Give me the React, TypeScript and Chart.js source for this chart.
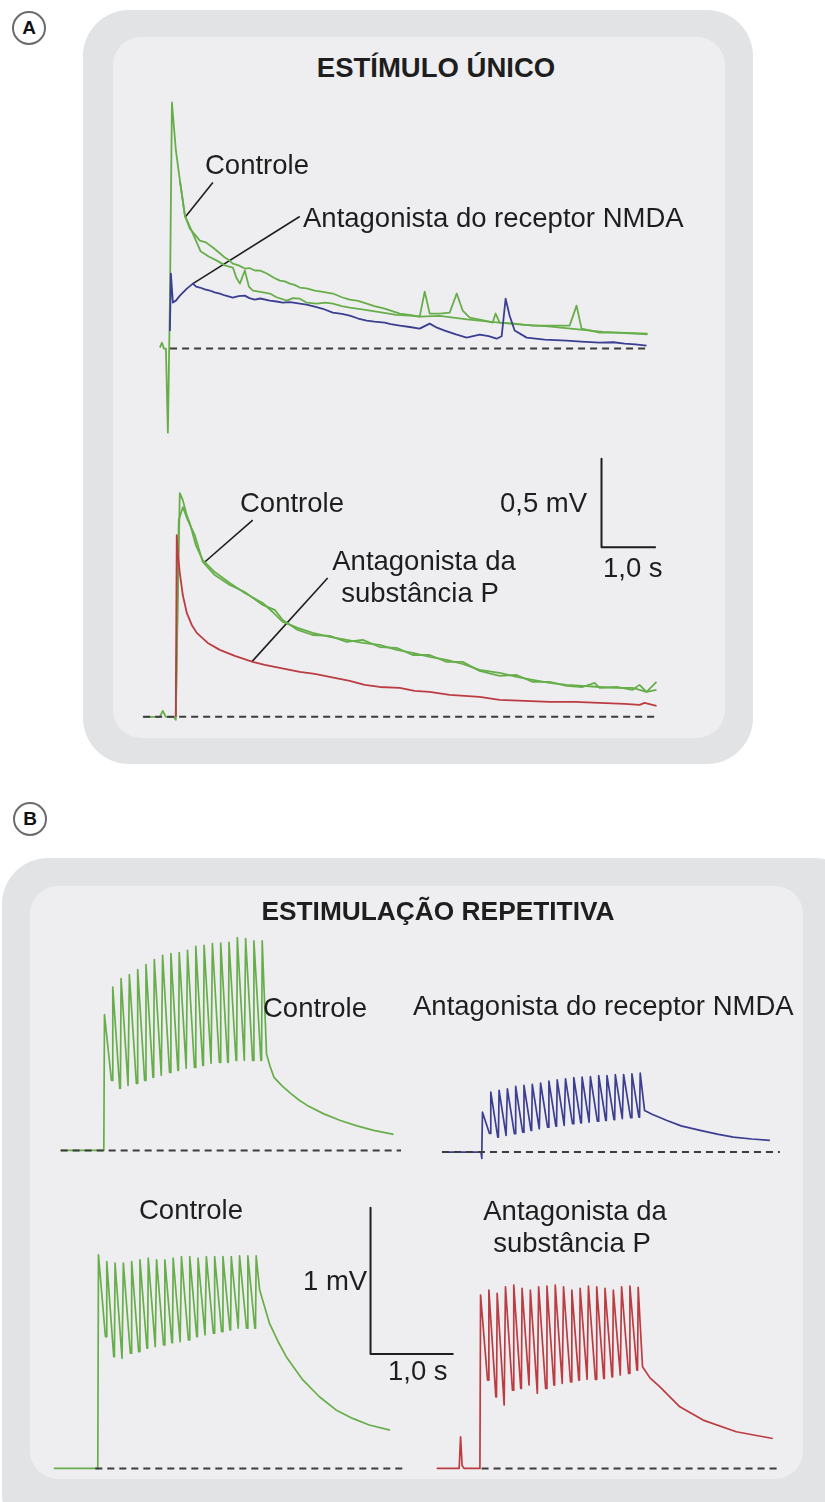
import React, { useEffect, useRef } from "react";
import { Chart, registerables } from "chart.js";

Chart.register(...registerables);

type P = [number, number]; // [time (s), potential (mV)]

// ---------------- Panel A : single stimulus ----------------
// Top pair: control vs NMDA-receptor antagonist
const aTopControl1: P[] = [
  [-0.147, 0.006], [-0.11, 0.034], [-0.074, 0], [-0.037, 0], [0, -0.475], [0.037, 0.271], [0.074, 1.39],
  [0.147, 1.119], [0.221, 0.949], [0.313, 0.751], [0.404, 0.678], [0.588, 0.61], [0.7, 0.6], [0.827, 0.571],
  [0.95, 0.54], [1.048, 0.514], [1.12, 0.5], [1.195, 0.48], [1.3, 0.47], [1.415, 0.452], [1.5, 0.455],
  [1.599, 0.441], [1.7, 0.44], [1.82, 0.424], [1.95, 0.4], [2.059, 0.384], [2.15, 0.38], [2.243, 0.367],
  [2.33, 0.36], [2.426, 0.345], [2.55, 0.34], [2.702, 0.328], [2.85, 0.32], [3.033, 0.311], [3.2, 0.29],
  [3.346, 0.277], [3.5, 0.27], [3.658, 0.254], [3.8, 0.24], [3.989, 0.226], [4.1, 0.215], [4.265, 0.198],
  [4.45, 0.19], [4.632, 0.181], [4.724, 0.322], [4.816, 0.198], [5.0, 0.198], [5.184, 0.203], [5.313, 0.311],
  [5.423, 0.215], [5.551, 0.175], [5.827, 0.158], [5.974, 0.147], [6.029, 0.198], [6.103, 0.147],
  [6.379, 0.141], [6.71, 0.13], [7.022, 0.13], [7.39, 0.13], [7.518, 0.243], [7.61, 0.113], [7.941, 0.09],
  [8.309, 0.09], [8.824, 0.085],
];
const aTopControl2: P[] = [
  [0.221, 0.949], [0.313, 0.751], [0.46, 0.65], [0.6, 0.55], [0.75, 0.52], [0.901, 0.497], [1.05, 0.47],
  [1.195, 0.458], [1.26, 0.4], [1.324, 0.367], [1.415, 0.441], [1.49, 0.35], [1.563, 0.328], [1.7, 0.32],
  [1.875, 0.311], [2.0, 0.29], [2.188, 0.271], [2.3, 0.285], [2.426, 0.282], [2.55, 0.26], [2.739, 0.254],
  [2.9, 0.26], [3.033, 0.254], [3.2, 0.24], [3.346, 0.232], [3.6, 0.22], [3.952, 0.203], [4.2, 0.19],
  [4.449, 0.186], [4.632, 0.181], [5.0, 0.185], [5.5, 0.165], [6.0, 0.15], [6.5, 0.135], [7.0, 0.125],
  [7.5, 0.11], [8.0, 0.095], [8.824, 0.08],
];
const aTopNmda: P[] = [
  [0.037, 0.1], [0.055, 0.424], [0.092, 0.26], [0.147, 0.271], [0.221, 0.299], [0.349, 0.339], [0.46, 0.367],
  [0.52, 0.35], [0.588, 0.345], [0.68, 0.335], [0.772, 0.328], [0.86, 0.318], [0.956, 0.311], [1.05, 0.3],
  [1.195, 0.288], [1.3, 0.296], [1.415, 0.299], [1.5, 0.285], [1.599, 0.277], [1.7, 0.283], [1.875, 0.271],
  [2.0, 0.266], [2.114, 0.26], [2.25, 0.262], [2.426, 0.254], [2.55, 0.248], [2.702, 0.237], [2.85, 0.225],
  [3.033, 0.203], [3.2, 0.196], [3.346, 0.186], [3.5, 0.17], [3.658, 0.158], [3.8, 0.152], [3.989, 0.147],
  [4.1, 0.138], [4.265, 0.13], [4.45, 0.122], [4.632, 0.113], [4.816, 0.141], [4.95, 0.118], [5.092, 0.102],
  [5.3, 0.08], [5.496, 0.062], [5.735, 0.079], [5.9, 0.07], [6.048, 0.056], [6.14, 0.07], [6.213, 0.282],
  [6.287, 0.186], [6.379, 0.102], [6.599, 0.062], [6.93, 0.051], [7.335, 0.045], [7.6, 0.04], [7.941, 0.034],
  [8.2, 0.036], [8.401, 0.028], [8.6, 0.024], [8.805, 0.017],
];
const aTopBaseline: P[] = [[0.04, 0], [8.82, 0]];
const aTopCtrlPointer: P[] = [[0.827, 0.938], [0.313, 0.74]];
const aTopNmdaPointer: P[] = [[2.426, 0.746], [0.46, 0.367]];

// Bottom pair: control vs substance P antagonist
const aBotControl1: P[] = [
  [-0.607, 0], [-0.294, 0], [-0.239, 0.034], [-0.184, 0], [-0.037, 0], [0, -0.017], [0.037, 0.661],
  [0.074, 1.266], [0.129, 1.226], [0.202, 1.141], [0.257, 1.096], [0.368, 0.972], [0.496, 0.887],
  [0.717, 0.819], [0.993, 0.757], [1.268, 0.701], [1.599, 0.644], [1.783, 0.593], [1.967, 0.537],
  [2.243, 0.503], [2.518, 0.475], [2.831, 0.452], [3.143, 0.435], [3.438, 0.418], [3.75, 0.407],
  [4.063, 0.379], [4.357, 0.362], [4.669, 0.339], [4.982, 0.322], [5.276, 0.299], [5.588, 0.266],
  [5.956, 0.249], [6.268, 0.226], [6.563, 0.209], [6.875, 0.192], [7.188, 0.181], [7.482, 0.175],
  [7.794, 0.169], [8.107, 0.164], [8.401, 0.164], [8.658, 0.141], [8.842, 0.198],
];
const aBotControl2: P[] = [
  [0, 0], [0.055, 1.113], [0.129, 1.186], [0.221, 1.113], [0.349, 1.028], [0.496, 0.876], [0.717, 0.802],
  [0.993, 0.746], [1.268, 0.706], [1.599, 0.633], [1.82, 0.605], [1.967, 0.548], [2.243, 0.492],
  [2.518, 0.463], [2.831, 0.458], [3.143, 0.424], [3.438, 0.435], [3.75, 0.395], [4.063, 0.39],
  [4.357, 0.35], [4.669, 0.35], [4.982, 0.311], [5.276, 0.311], [5.588, 0.26], [5.956, 0.232],
  [6.268, 0.237], [6.563, 0.198], [6.875, 0.198], [7.188, 0.175], [7.482, 0.169], [7.702, 0.192],
  [7.794, 0.164], [8.107, 0.169], [8.401, 0.153], [8.529, 0.181], [8.658, 0.141], [8.842, 0.153],
];
const aBotSubP: P[] = [
  [0, 0], [0.018, 1.028], [0.037, 0.927], [0.074, 0.814], [0.129, 0.689], [0.202, 0.588], [0.294, 0.52],
  [0.386, 0.475], [0.588, 0.418], [0.809, 0.379], [1.085, 0.345], [1.415, 0.311], [1.636, 0.294],
  [1.912, 0.277], [2.279, 0.254], [2.555, 0.243], [2.831, 0.226], [3.199, 0.203], [3.474, 0.181],
  [3.75, 0.169], [4.118, 0.164], [4.393, 0.147], [4.669, 0.141], [5.037, 0.124], [5.588, 0.113],
  [5.956, 0.096], [6.415, 0.09], [6.875, 0.085], [7.335, 0.085], [7.794, 0.079], [8.254, 0.073],
  [8.529, 0.068], [8.621, 0.079], [8.842, 0.062],
];
const aBotBaseline: P[] = [[-0.6, 0], [8.86, 0]];
const aBotCtrlPointer: P[] = [[1.415, 1.113], [0.533, 0.876]];
const aBotSubPPointer: P[] = [[2.794, 0.785], [1.397, 0.311]];
const aScaleOrigin: P = [7.83, 0.96];
const aScaleSize: P = [1.0, 0.5]; // 1,0 s  x  0,5 mV

// ---------------- Panel B : repetitive stimulation (10 Hz) ----------------
const stimTimes = [0, 0.1, 0.2, 0.3, 0.4, 0.5, 0.6, 0.7, 0.8, 0.9, 1.0, 1.1, 1.2, 1.3, 1.4, 1.5, 1.6, 1.7, 1.8, 1.9];

const bCtrlTopPre: P[] = [[-0.52, 0], [0, 0]];
const bCtrlTopPeaks = [0.929, 1.118, 1.176, 1.203, 1.238, 1.272, 1.306, 1.336, 1.347, 1.354, 1.37, 1.397, 1.404, 1.416, 1.42, 1.425, 1.457, 1.45, 1.434, 1.434];
const bCtrlTopTroughs = [0.479, 0.425, 0.445, 0.459, 0.479, 0.5, 0.514, 0.534, 0.548, 0.562, 0.568, 0.582, 0.596, 0.603, 0.603, 0.616, 0.616, 0.616, 0.616];
const bCtrlTopTail: P[] = [[1.96, 0.66], [2.0, 0.58], [2.05, 0.5], [2.15, 0.44], [2.25, 0.39], [2.35, 0.345], [2.45, 0.308], [2.65, 0.25], [2.85, 0.205], [3.05, 0.168], [3.25, 0.137], [3.49, 0.11]];
const bCtrlTopBaseline: P[] = [[-0.52, 0], [3.58, 0]];

const bNmdaPre: P[] = [[-0.48, 0], [-0.01, 0], [0, -0.043]];
const bNmdaPeaks = [0.274, 0.411, 0.423, 0.434, 0.45, 0.457, 0.464, 0.473, 0.486, 0.496, 0.503, 0.51, 0.514, 0.518, 0.525, 0.525, 0.532, 0.532, 0.537, 0.541];
const bNmdaTroughs = [0.128, 0.103, 0.114, 0.126, 0.137, 0.149, 0.16, 0.171, 0.178, 0.183, 0.195, 0.201, 0.205, 0.212, 0.217, 0.222, 0.229, 0.236, 0.24];
const bNmdaTail: P[] = [[1.96, 0.286], [2.05, 0.26], [2.23, 0.217], [2.4, 0.18], [2.63, 0.149], [2.85, 0.122], [3.03, 0.103], [3.25, 0.09], [3.47, 0.08]];
const bNmdaBaseline: P[] = [[-0.48, 0], [3.59, 0]];

const bCtrlBotPre: P[] = [[-0.53, 0], [0, 0]];
const bCtrlBotPeaks = [1.461, 1.415, 1.404, 1.404, 1.415, 1.427, 1.438, 1.427, 1.427, 1.438, 1.449, 1.449, 1.438, 1.449, 1.449, 1.449, 1.449, 1.454, 1.454, 1.454];
const bCtrlBotTroughs = [0.901, 0.764, 0.753, 0.788, 0.799, 0.822, 0.833, 0.845, 0.86, 0.867, 0.879, 0.901, 0.913, 0.925, 0.936, 0.947, 0.959, 0.959, 0.959];
const bCtrlBotTail: P[] = [[1.95, 1.22], [2.07, 0.99], [2.17, 0.87], [2.27, 0.764], [2.47, 0.605], [2.67, 0.49], [2.87, 0.4], [3.07, 0.342], [3.27, 0.297], [3.52, 0.262]];
const bCtrlBotBaseline: P[] = [[-0.03, 0], [3.67, 0]];

const bSubPPre: P[] = [[-0.52, 0], [-0.25, 0], [-0.233, 0.216], [-0.215, 0.02], [-0.19, 0], [0, 0]];
const bSubPPeaks = [1.187, 1.221, 1.199, 1.244, 1.255, 1.233, 1.221, 1.244, 1.249, 1.255, 1.244, 1.221, 1.233, 1.249, 1.244, 1.233, 1.221, 1.244, 1.249, 1.24];
const bSubPTroughs = [0.605, 0.49, 0.434, 0.536, 0.548, 0.571, 0.514, 0.548, 0.571, 0.582, 0.593, 0.605, 0.61, 0.61, 0.616, 0.627, 0.639, 0.651, 0.673];
const bSubPTail: P[] = [[1.96, 0.696], [2.05, 0.62], [2.17, 0.559], [2.41, 0.422], [2.69, 0.331], [3.09, 0.251], [3.53, 0.205]];
const bSubPBaseline: P[] = [[0.02, 0], [3.59, 0]];

const bScaleOrigin: P = [3.286, 0.783];
const bScaleSize: P = [1.0, 1.0]; // 1,0 s  x  1 mV

// ---------------- styling ----------------
const GREEN = "#67ae4b";
const BLUE = "#3b3e91";
const RED = "#bb3c42";
const INK = "#1e1e1e";
const DASH = "#3c3c3c";
const FONT = '"Liberation Sans", Arial, Helvetica, sans-serif';

const RISE = 0.008;
const DECAY = 0.092;

function pulseTrain(pre: P[], peaks: number[], troughs: number[], tail: P[]): P[] {
  const pts: P[] = pre.slice();
  stimTimes.forEach((s, i) => {
    pts.push([s, i === 0 ? 0 : troughs[i - 1]]);
    pts.push([s + RISE, peaks[i]]);
    if (i < troughs.length) pts.push([s + DECAY, troughs[i]]);
  });
  return pts.concat(tail);
}

function scaleBar(origin: P, size: P): P[] {
  return [
    [origin[0], origin[1] + size[1]],
    [origin[0], origin[1]],
    [origin[0] + size[0], origin[1]],
  ];
}

interface Frame {
  x0: number; y0: number; pxS: number; pxMV: number;
  tMin: number; tMax: number; vMin: number; vMax: number;
}
interface Series { pts: P[]; color: string; width: number; dash?: number[] }

function TracePlot({ frame, series }: { frame: Frame; series: Series[] }) {
  const ref = useRef<HTMLCanvasElement>(null);
  const left = Math.round(frame.x0 + frame.tMin * frame.pxS);
  const top = Math.round(frame.y0 - frame.vMax * frame.pxMV);
  const width = Math.round((frame.tMax - frame.tMin) * frame.pxS);
  const height = Math.round((frame.vMax - frame.vMin) * frame.pxMV);

  useEffect(() => {
    if (!ref.current) return;
    const chart = new Chart(ref.current, {
      type: "scatter",
      data: {
        datasets: series.map((s) => ({
          data: s.pts.map(([x, y]) => ({ x, y })),
          showLine: true,
          borderColor: s.color,
          backgroundColor: s.color,
          borderWidth: s.width,
          borderDash: s.dash || [],
          pointRadius: 0,
          pointHoverRadius: 0,
          tension: 0,
          clip: false as any,
          borderJoinStyle: "round" as const,
          borderCapStyle: "butt" as const,
        })),
      },
      options: {
        animation: false,
        responsive: false,
        maintainAspectRatio: false,
        devicePixelRatio: 1,
        events: [],
        layout: { padding: 0 },
        plugins: { legend: { display: false }, tooltip: { enabled: false }, title: { display: false } },
        scales: {
          x: { type: "linear", min: frame.tMin, max: frame.tMax, display: false },
          y: { type: "linear", min: frame.vMin, max: frame.vMax, display: false },
        },
      },
    });
    return () => chart.destroy();
  }, []);

  return (
    <canvas
      ref={ref}
      width={width}
      height={height}
      style={{ position: "absolute", left, top, width, height }}
    />
  );
}

function Label({ text, left, baseline, size = 27.5, bold = false, center = false }: {
  text: string; left: number; baseline: number; size?: number; bold?: boolean; center?: boolean;
}) {
  const top = baseline - Math.round(size * 0.845);
  const style: React.CSSProperties = {
    position: "absolute",
    top,
    fontSize: size,
    lineHeight: `${size}px`,
    fontWeight: bold ? 700 : 400,
    color: INK,
    whiteSpace: "nowrap",
    fontFamily: FONT,
  };
  if (center) {
    style.left = left - 300;
    style.width = 600;
    style.textAlign = "center";
  } else {
    style.left = left;
  }
  return <div style={style}>{text}</div>;
}

function Badge({ letter, cx, cy }: { letter: string; cx: number; cy: number }) {
  const r = 17;
  return (
    <div
      style={{
        position: "absolute",
        left: cx - r,
        top: cy - r,
        width: 2 * r,
        height: 2 * r,
        boxSizing: "border-box",
        border: "2px solid #6b6b6b",
        borderRadius: "50%",
        background: "#fff",
        display: "flex",
        alignItems: "center",
        justifyContent: "center",
        fontFamily: FONT,
        fontWeight: 700,
        fontSize: 19,
        color: "#111",
      }}
    >
      {letter}
    </div>
  );
}

function Box({ outer, inner }: { outer: number[]; inner: number[] }) {
  return (
    <>
      <div style={{ position: "absolute", left: outer[0], top: outer[1], width: outer[2] - outer[0], height: outer[3] - outer[1], background: "#e2e3e5", borderRadius: 46 }} />
      <div style={{ position: "absolute", left: inner[0], top: inner[1], width: inner[2] - inner[0], height: inner[3] - inner[1], background: "#eeeef0", borderRadius: 28 }} />
    </>
  );
}

const frameATop: Frame = { x0: 168, y0: 348, pxS: 54.4, pxMV: 177, tMin: -0.55, tMax: 9.2, vMin: -0.55, vMax: 1.5 };
const frameABot: Frame = { x0: 176, y0: 717, pxS: 54.4, pxMV: 177, tMin: -0.75, tMax: 9.2, vMin: -0.08, vMax: 1.6 };
const frameBTL: Frame = { x0: 103.3, y0: 1150, pxS: 83, pxMV: 146, tMin: -0.6, tMax: 3.7, vMin: -0.1, vMax: 1.55 };
const frameBTR: Frame = { x0: 481.7, y0: 1151.7, pxS: 83, pxMV: 146, tMin: -0.6, tMax: 3.7, vMin: -0.15, vMax: 0.7 };
const frameBBL: Frame = { x0: 97.3, y0: 1468.3, pxS: 83, pxMV: 146, tMin: -0.6, tMax: 4.4, vMin: -0.1, vMax: 1.85 };
const frameBBR: Frame = { x0: 480, y0: 1468.3, pxS: 83, pxMV: 146, tMin: -0.65, tMax: 3.75, vMin: -0.1, vMax: 1.4 };

export default function App() {
  const dashed = (pts: P[]): Series => ({ pts, color: DASH, width: 2, dash: [7, 5] });
  const pointer = (pts: P[]): Series => ({ pts, color: INK, width: 1.6 });

  return (
    <div style={{ position: "absolute", left: 0, top: 0, width: 825, height: 1502, overflow: "hidden", background: "#fff", fontFamily: FONT }}>
      <Box outer={[83, 10, 753, 764]} inner={[113, 37, 725, 738]} />
      <Box outer={[2, 858, 860, 1540]} inner={[30, 886, 803, 1479]} />
      <Badge letter="A" cx={29} cy={28} />
      <Badge letter="B" cx={30} cy={819} />

      <TracePlot
        frame={frameATop}
        series={[
          dashed(aTopBaseline),
          { pts: aTopNmda, color: BLUE, width: 1.8 },
          { pts: aTopControl2, color: GREEN, width: 1.8 },
          { pts: aTopControl1, color: GREEN, width: 1.8 },
          pointer(aTopCtrlPointer),
          pointer(aTopNmdaPointer),
        ]}
      />
      <TracePlot
        frame={frameABot}
        series={[
          dashed(aBotBaseline),
          { pts: aBotSubP, color: RED, width: 1.8 },
          { pts: aBotControl2, color: GREEN, width: 1.8 },
          { pts: aBotControl1, color: GREEN, width: 1.8 },
          pointer(aBotCtrlPointer),
          pointer(aBotSubPPointer),
          { pts: scaleBar(aScaleOrigin, aScaleSize), color: INK, width: 2 },
        ]}
      />
      <TracePlot
        frame={frameBTL}
        series={[dashed(bCtrlTopBaseline), { pts: pulseTrain(bCtrlTopPre, bCtrlTopPeaks, bCtrlTopTroughs, bCtrlTopTail), color: GREEN, width: 1.7 }]}
      />
      <TracePlot
        frame={frameBTR}
        series={[dashed(bNmdaBaseline), { pts: pulseTrain(bNmdaPre, bNmdaPeaks, bNmdaTroughs, bNmdaTail), color: BLUE, width: 1.7 }]}
      />
      <TracePlot
        frame={frameBBL}
        series={[
          dashed(bCtrlBotBaseline),
          { pts: pulseTrain(bCtrlBotPre, bCtrlBotPeaks, bCtrlBotTroughs, bCtrlBotTail), color: GREEN, width: 1.7 },
          { pts: scaleBar(bScaleOrigin, bScaleSize), color: INK, width: 2 },
        ]}
      />
      <TracePlot
        frame={frameBBR}
        series={[dashed(bSubPBaseline), { pts: pulseTrain(bSubPPre, bSubPPeaks, bSubPTroughs, bSubPTail), color: RED, width: 1.7 }]}
      />

      {/* Panel A texts */}
      <Label text="ESTÍMULO ÚNICO" left={436} baseline={77} bold center size={27.5} />
      <Label text="Controle" left={205} baseline={174} />
      <Label text="Antagonista do receptor NMDA" left={303} baseline={227} />
      <Label text="Controle" left={240} baseline={512} />
      <Label text="Antagonista da" left={424} baseline={570} center />
      <Label text="substância P" left={420} baseline={602} center />
      <Label text="0,5 mV" left={500} baseline={512} />
      <Label text="1,0 s" left={603} baseline={577} />

      {/* Panel B texts */}
      <Label text="ESTIMULAÇÃO REPETITIVA" left={438} baseline={920} bold center size={26.3} />
      <Label text="Controle" left={263} baseline={1017} />
      <Label text="Antagonista do receptor NMDA" left={413} baseline={1015} />
      <Label text="Controle" left={139} baseline={1219} />
      <Label text="1 mV" left={303} baseline={1290} />
      <Label text="1,0 s" left={388} baseline={1380} />
      <Label text="Antagonista da" left={575} baseline={1220} center />
      <Label text="substância P" left={572} baseline={1252} center />
    </div>
  );
}
